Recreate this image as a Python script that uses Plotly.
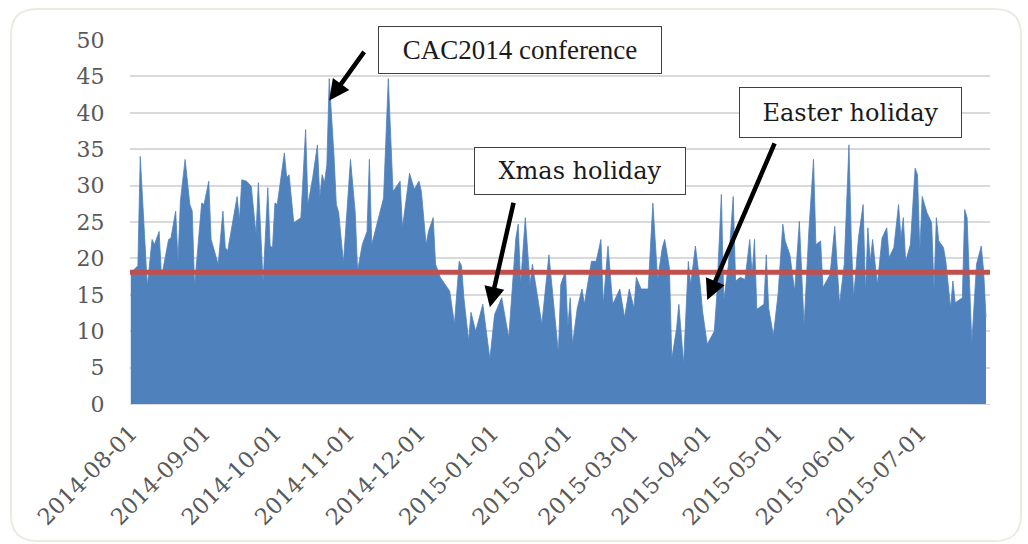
import pandas as pd
import plotly.graph_objects as go

# ---- data ----
start_date = "2014-08-01"
day_offsets = [0, 3, 4, 7, 9, 10, 12, 13, 16, 17, 19, 20, 21, 23, 25, 26, 27, 30, 31, 33,
               34, 37, 39, 40, 41, 45, 46, 47, 49, 51, 53, 54, 56, 58, 59, 60, 61, 62, 65, 66,
               67, 69, 72, 74, 75, 77, 79, 80, 81, 82, 83, 84, 86, 87, 88, 90, 93, 95, 96, 98,
               100, 101, 102, 105, 107, 109, 111, 114, 115, 118, 120, 122, 123, 125, 126, 128, 129, 131, 133, 135,
               137, 139, 140, 141, 143, 144, 146, 148, 149, 152, 154, 157, 160, 163, 164, 165, 167, 169, 170, 172,
               174, 177, 179, 181, 182, 184, 185, 186, 187, 189, 191, 192, 195, 197, 199, 200, 202, 204, 207, 209,
               211, 213, 214, 216, 219, 221, 223, 225, 226, 228, 229, 231, 232, 234, 236, 237, 239, 241, 242, 244,
               247, 248, 250, 251, 253, 255, 256, 258, 260, 262, 263, 264, 265, 268, 269, 270, 272, 274, 276, 277,
               279, 281, 283, 285, 287, 289, 290, 292, 293, 296, 298, 300, 302, 304, 305, 306, 308, 310, 311, 312,
               313, 314, 316, 318, 320, 321, 323, 325, 326, 327, 328, 330, 332, 333, 334, 335, 337, 339, 340, 341,
               342, 344, 345, 347, 348, 349, 352, 353, 354, 356, 358, 360, 361, 362]
daily_values = [18, 19, 34, 16.2, 22.6, 21.9, 23.7, 17.4, 22.6, 22.8, 26.5, 19.6, 27.9, 33.6, 27.4, 26.5, 16.2, 27.6, 27.4, 30.6,
                22.6, 19.2, 26.5, 21.5, 21, 28.5, 25.3, 30.8, 30.6, 29.9, 23.3, 30.4, 16.7, 29.7, 21.7, 21.5, 27.6, 27.4, 34.5, 31.1,
                31.5, 24.9, 25.6, 37.7, 27.4, 31.1, 35.6, 28.3, 31.5, 30.4, 32.9, 44.7, 34.2, 27.4, 26.3, 19.4, 33.6, 26.3, 18.3, 21.9,
                23.7, 33.6, 21.9, 25.6, 28.3, 44.7, 29.2, 30.6, 24.2, 31.7, 29.5, 30.6, 29.2, 21.9, 23.7, 25.6, 19.2, 17.4, 16.4, 15.5,
                11, 19.6, 19, 14.6, 8.7, 12.6, 10, 12.3, 13.7, 6.2, 12.3, 14.6, 9.1, 22.8, 24.7, 16.4, 25.6, 16.4, 19.2, 15.1,
                11, 20.5, 13.7, 7, 16.4, 18.3, 10.5, 14.6, 8.2, 13.2, 15.8, 13.7, 19.6, 19.6, 22.6, 13.7, 21.7, 13.7, 15.8, 11.9,
                15.8, 13.2, 17.4, 15.8, 15.8, 27.6, 17.1, 21.5, 22.6, 18.7, 6.2, 10.3, 13.7, 5.5, 19.6, 16.4, 21.7, 16.4, 12.8, 8.2,
                10, 14.6, 28.8, 14.2, 19.2, 28.5, 16.9, 17.4, 17.1, 22.6, 17.8, 22.6, 13, 13.7, 20.5, 13.2, 9.4, 15.1, 24.7, 22.4,
                20.5, 15.5, 25.1, 10.7, 23.7, 33.6, 21.9, 22.4, 16, 17.8, 24.4, 13.7, 19.2, 35.6, 22.4, 14.6, 22.8, 27.4, 15.3, 24.2,
                19.6, 22.6, 16.4, 22.8, 24.2, 20.1, 21.5, 27.4, 22.8, 25.6, 19.6, 21.9, 32.4, 31.5, 21, 28.5, 26.3, 24.9, 15.8, 25.6,
                22.4, 21.5, 19.6, 13.2, 16.9, 13.9, 14.6, 26.7, 25.6, 8.4, 19.2, 21.7, 18.3, 11.9]
average_value = 18.1
tick_labels = ["2014-08-01", "2014-09-01", "2014-10-01", "2014-11-01", "2014-12-01", "2015-01-01",
               "2015-02-01", "2015-03-01", "2015-04-01", "2015-05-01", "2015-06-01", "2015-07-01"]
y_ticks = [0, 5, 10, 15, 20, 25, 30, 35, 40, 45, 50]

notes = ["CAC2014 conference", "Xmas holiday", "Easter holiday"]
note_day_offsets = [84, 152, 244]
note_values = [41.7, 13.3, 14.3]

dates = pd.Timestamp(start_date) + pd.to_timedelta(day_offsets, unit="D")
note_dates = pd.Timestamp(start_date) + pd.to_timedelta(note_day_offsets, unit="D")

W, H = 1028, 544
L, R, T, B = 130, 38, 40, 140
PW, PH = W - L - R, H - T - B


def px(x):
    return (x - L) / PW


def py(y):
    return (H - B - y) / PH


fig = go.Figure()
fig.add_trace(go.Scatter(x=dates, y=daily_values, mode="lines", fill="tozeroy",
                         line=dict(color="#4f81bd", width=0.8), fillcolor="#4f81bd",
                         showlegend=False, hoverinfo="x+y"))

fig.add_shape(type="line", xref="paper", yref="y", x0=0, x1=1, y0=average_value, y1=average_value,
              line=dict(color="#c0504d", width=5))

# rounded outer frame
x0, y0, x1, y1, r = px(11), py(9), px(1021), py(541), 26
rx, ry = r / PW, r / PH
path = (f"M {x0+rx},{y0} L {x1-rx},{y0} Q {x1},{y0} {x1},{y0-ry} "
        f"L {x1},{y1+ry} Q {x1},{y1} {x1-rx},{y1} L {x0+rx},{y1} Q {x0},{y1} {x0},{y1+ry} "
        f"L {x0},{y0-ry} Q {x0},{y0} {x0+rx},{y0} Z")
fig.add_shape(type="path", xref="paper", yref="paper", path=path,
              line=dict(color="#ebebe3", width=2), layer="below")

# text boxes
boxes = [  # (center x px, center y px, width, height, font, size)
    (520, 49.5, 284, 48, "Liberation Serif", 27),
    (580, 171, 212, 48, "DejaVu Serif", 24),
    (850.5, 112.5, 223, 51, "DejaVu Serif", 24),
]
for text, (cx, cy, bw, bh, fam, fs) in zip(notes, boxes):
    fig.add_annotation(xref="paper", yref="paper", x=px(cx), y=py(cy), text=text,
                       showarrow=False, width=bw - 2, height=bh - 2, borderpad=0,
                       bgcolor="white", bordercolor="#404040", borderwidth=1,
                       font=dict(family=fam, size=fs, color="#1a1a1a"),
                       xanchor="center", yanchor="middle")

# arrows pointing at data
arrow_offsets = [(36, -50), (24, -106), (68, -158)]
for d, v, (ax, ay) in zip(note_dates, note_values, arrow_offsets):
    fig.add_annotation(x=d, y=v, xref="x", yref="y", text="", showarrow=True,
                       ax=ax, ay=ay, axref="pixel", ayref="pixel",
                       arrowhead=2, arrowsize=0.9, arrowwidth=4.5, arrowcolor="black")

fig.update_layout(
    width=W, height=H, margin=dict(l=L, r=R, t=T, b=B, autoexpand=False),
    paper_bgcolor="white", plot_bgcolor="white",
    xaxis=dict(type="date", range=[pd.Timestamp(start_date) - pd.Timedelta(hours=8),
                                    pd.Timestamp(start_date) + pd.Timedelta(days=363.7)],
               tickvals=pd.to_datetime(tick_labels), ticktext=tick_labels, tickangle=-45,
               ticks="outside", ticklen=6, tickcolor="rgba(0,0,0,0)", automargin=False,
               showgrid=False, showline=True, linecolor="#d9d9d9", linewidth=1,
               tickfont=dict(family="DejaVu Serif", size=22.5, color="#595959"), zeroline=False),
    yaxis=dict(range=[0, 50], tickvals=y_ticks, showgrid=True, gridcolor="#d9d9d9", gridwidth=1.5,
               ticks="outside", ticklen=20, tickcolor="rgba(0,0,0,0)", zeroline=False, automargin=False,
               tickfont=dict(family="DejaVu Serif", size=22, color="#595959")),
)

fig.write_html("out.html", config={"displayModeBar": False},
               post_script="document.body.style.margin='0';document.body.style.overflow='hidden';")
